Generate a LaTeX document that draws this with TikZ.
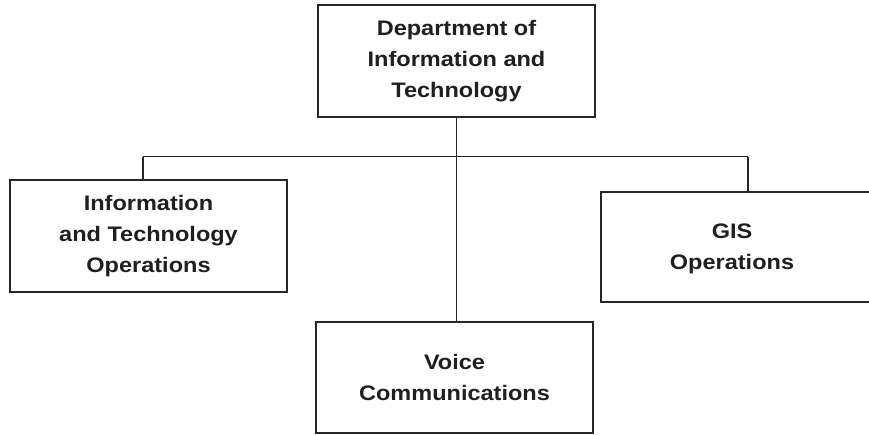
\documentclass[tikz,border=0pt]{standalone}
\usepackage{fontspec}
\setmainfont{Liberation Sans}[FakeStretch=1.12]
\begin{document}
\begin{tikzpicture}[x=1pt,y=-1pt,
  unit/.style={draw=black!85, line width=1.3pt, fill=white, inner sep=0pt,
    minimum width=277pt, minimum height=112pt},
  caption/.style={align=center, font=\fontsize{21}{31}\selectfont\bfseries, text=black!88},
  link/.style={draw=black!85, line width=1.3pt}]
  \useasboundingbox (0,0) rectangle (869,434);
  \clip (0,0) rectangle (869,434);

  % org units
  \node[unit, caption] (dept) at (456.5,61) {Department of\\Information and\\Technology};
  \node[unit, caption] (ito) at (148.5,236) {Information\\and Technology\\Operations};
  \node[unit, minimum width=274pt, minimum height=110pt] (gis) at (738,247) {};
  \node[caption] (gistext) at (732,249) {GIS\\Operations};
  \node[unit, caption, minimum height=111pt] (voice) at (454.5,377.5) {Voice\\Communications};

  % reporting lines
  \coordinate (lj) at (143,156.5);
  \coordinate (rj) at (748,156.5);
  \draw[link] (lj) -- (rj);
  \draw[link] (lj) -- (lj |- ito.north);
  \draw[link] (rj) -- (rj |- gis.north);
  \draw[link] (dept.south) -- (dept.south |- voice.north);
\end{tikzpicture}
\end{document}
